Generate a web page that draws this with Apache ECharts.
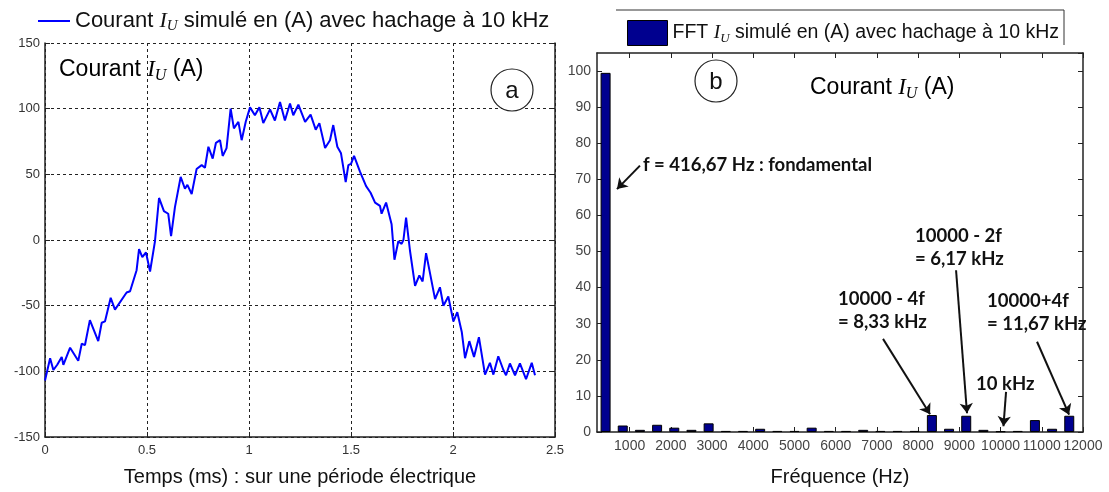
<!DOCTYPE html>
<html>
<head>
<meta charset="utf-8">
<script src="https://cdn.jsdelivr.net/npm/echarts@6/dist/echarts.min.js"></script>
<style>
  html, body { margin: 0; padding: 0; background: #fff; }
  #chart { width: 1109px; height: 492px; }
</style>
</head>
<body>
<div id="chart"></div>
<script>
// (a) simulated phase current over one electrical period (10 kHz chopping)
const timeMs = [0.000, 0.025, 0.041, 0.060, 0.082, 0.090, 0.123, 0.163, 0.180, 0.196,
  0.220, 0.261, 0.278, 0.294, 0.322, 0.343, 0.400, 0.417, 0.425, 0.449,
  0.461, 0.477, 0.495, 0.515, 0.539, 0.559, 0.583, 0.604, 0.618, 0.637,
  0.665, 0.686, 0.698, 0.719, 0.743, 0.768, 0.784, 0.801, 0.822, 0.838,
  0.858, 0.871, 0.890, 0.910, 0.926, 0.948, 0.964, 0.984, 1.005, 1.029,
  1.051, 1.070, 1.103, 1.127, 1.152, 1.176, 1.201, 1.217, 1.242, 1.275,
  1.302, 1.327, 1.345, 1.373, 1.397, 1.413, 1.433, 1.451, 1.474, 1.487,
  1.500, 1.515, 1.544, 1.574, 1.596, 1.618, 1.642, 1.650, 1.672, 1.699,
  1.713, 1.732, 1.748, 1.757, 1.770, 1.789, 1.814, 1.835, 1.851, 1.868,
  1.887, 1.912, 1.936, 1.953, 1.977, 2.002, 2.021, 2.043, 2.059, 2.080,
  2.103, 2.127, 2.157, 2.181, 2.198, 2.222, 2.247, 2.260, 2.279, 2.304,
  2.328, 2.358, 2.386, 2.402];
const currentA = [-107, -90, -99, -95, -89, -95, -82, -92, -79, -80,
  -61, -77, -63, -62, -44, -53, -40, -39, -35, -23,
  -7, -13, -9.5, -24, -1, 32, 22, 20, 3, 25,
  48, 39, 42, 35, 54, 57, 55, 71, 62, 74,
  76, 64, 70, 100, 85, 90, 76, 90, 101, 95,
  101, 89, 99.5, 91, 105, 91, 104, 95, 103, 90,
  95.5, 84, 89, 70, 76, 87.5, 71, 66, 44, 57,
  58, 64, 52, 41, 36, 28.5, 26, 20, 28.5, 12,
  -15, -1, -3, 0, 17, -8, -35, -27, -31.6, -10,
  -25, -45, -36, -50, -43, -62, -55, -70, -90, -77,
  -89, -74, -102.5, -93.5, -102.5, -88.5, -99, -103, -94, -103,
  -94, -106, -93.5, -103];

// (b) FFT of the same current: harmonic frequencies (Hz) and amplitudes (A)
const harmonicHz = [416.67, 833.33, 1250, 1666.67, 2083.33, 2500, 2916.67, 3333.33, 3750, 4166.67,
  4583.33, 5000, 5416.67, 5833.33, 6250, 6666.67, 7083.33, 7500, 7916.67, 8333.33,
  8750, 9166.67, 9583.33, 10000, 10416.67, 10833.33, 11250, 11666.67];
const fftAmp = [99.5, 1.8, 0.6, 2.0, 1.2, 0.6, 2.4, 0.3, 0.3, 0.9,
  0.3, 0.3, 1.2, 0.3, 0.3, 0.6, 0.3, 0.3, 0.3, 4.7,
  0.9, 4.5, 0.6, 0.2, 0.3, 3.3, 0.9, 4.5];

const freqTicks = [1000, 2000, 3000, 4000, 5000, 6000, 7000, 8000, 9000, 10000, 11000, 12000];

// annotation texts (anchored in data space of panel b) and their arrows [from, to]
const notes = [
  { text: 'f = 416,67 Hz : fondamental', at: [1324, 74.1] },
  { text: '10000 - 4f\n= 8,33 kHz', at: [6056, 33.6] },
  { text: '10000 - 2f\n= 6,17 kHz', at: [7925, 51] },
  { text: '10000+4f\n= 11,67 kHz', at: [9672, 33.1] },
  { text: '10 kHz', at: [9405, 13.3] }
];
const arrows = [
  [[1251, 73.8], [693, 67.3]],
  [[7148, 25.8], [8289, 4.9]],
  [[8920, 44.8], [9186, 5.2]],
  [[10885, 25.0], [11662, 4.8]],
  [[10133, 11.1], [10070, 1.6]]
];

const nameA = 'Courant I_U simulé en (A) avec hachage à 10 kHz';
const nameB = 'FFT I_U simulé en (A) avec hachage à 10 kHz';

const SANS = '"Liberation Sans", Arial, sans-serif';
const SERIF = '"Liberation Serif", "Times New Roman", serif';

function mathRich(size) {
  const sub = Math.round(size * 0.68);
  return {
    n: { fontFamily: SANS, fontSize: size, color: '#111', lineHeight: size + 4, verticalAlign: 'middle' },
    i: { fontFamily: SERIF, fontStyle: 'italic', fontSize: size, color: '#111', lineHeight: size + 4, verticalAlign: 'middle' },
    s: { fontFamily: SERIF, fontStyle: 'italic', fontSize: sub, color: '#111',
         lineHeight: sub, verticalAlign: 'bottom' }
  };
}
function withSub(name) {
  const p = name.split('I_U');
  return '{n|' + p[0] + '}{i|I}{s|U}{n|' + p[1] + '}';
}

const tickLabel = { fontFamily: SANS, fontSize: 13, color: '#333' };
const tickLabelB = { fontFamily: SANS, fontSize: 14, color: '#444' };
const dotted = { color: '#222', width: 1, type: [3, 3] };
const axLine = { show: true, onZero: false, lineStyle: { color: '#222', width: 1.5 } };

const chart = echarts.init(document.getElementById('chart'), null, { renderer: 'canvas' });

const option = {
  animation: false,
  backgroundColor: '#fff',
  legend: [
    {
      data: [nameA], left: 33, top: 5, icon: 'rect', itemWidth: 32, itemHeight: 2, itemGap: 0,
      selectedMode: false,
      itemStyle: { color: '#0000ff' },
      formatter: withSub,
      textStyle: { rich: mathRich(22) }
    },
    {
      data: [nameB], left: 622, top: 15, itemWidth: 40, itemHeight: 25,
      selectedMode: false, icon: 'rect',
      itemStyle: { borderColor: '#000', borderWidth: 1 },
      formatter: withSub,
      textStyle: { rich: mathRich(19.5) }
    }
  ],
  grid: [
    { left: 45, top: 43, width: 510, height: 399 },
    { left: 597, top: 53, width: 486, height: 387 }
  ],
  xAxis: [
    {
      gridIndex: 0, type: 'value', min: 0, max: 2.5, interval: 0.5,
      name: 'Temps (ms) : sur une période électrique', nameLocation: 'middle', nameGap: 30,
      nameTextStyle: { fontFamily: SANS, fontSize: 20, color: '#111' },
      axisLine: axLine,
      axisTick: { inside: true, length: 5, lineStyle: { color: '#222' } },
      axisLabel: Object.assign({ margin: 7 }, tickLabel),
      splitLine: { show: true, lineStyle: dotted }
    },
    {
      gridIndex: 1, type: 'value', min: 208.33, max: 12000, position: 'bottom',
      name: 'Fréquence (Hz)', nameLocation: 'middle', nameGap: 35,
      nameTextStyle: { fontFamily: SANS, fontSize: 20, color: '#111' },
      axisLine: axLine,
      axisTick: { inside: true, length: 5, customValues: freqTicks, lineStyle: { color: '#222' } },
      axisLabel: Object.assign({ margin: 7, customValues: freqTicks, formatter: v => String(v) }, tickLabelB),
      splitLine: { show: false }
    },
    {
      gridIndex: 1, type: 'value', min: 208.33, max: 12000, position: 'top',
      axisLine: axLine,
      axisTick: { inside: true, length: 5, customValues: freqTicks, lineStyle: { color: '#222' } },
      axisLabel: { show: false },
      splitLine: { show: false }
    }
  ],
  yAxis: [
    {
      gridIndex: 0, type: 'value', min: -150, max: 150, interval: 50, position: 'left',
      axisLine: axLine,
      axisTick: { inside: true, length: 5, lineStyle: { color: '#222' } },
      axisLabel: Object.assign({ margin: 5 }, tickLabel),
      splitLine: { show: true, lineStyle: dotted }
    },
    {
      gridIndex: 0, type: 'value', min: -150, max: 150, interval: 50, position: 'right',
      axisLine: axLine,
      axisTick: { inside: true, length: 5, lineStyle: { color: '#222' } },
      axisLabel: { show: false },
      splitLine: { show: false }
    },
    {
      gridIndex: 1, type: 'value', min: 0, max: 105, interval: 10, position: 'left',
      axisLine: axLine,
      axisTick: { inside: true, length: 5, lineStyle: { color: '#222' } },
      axisLabel: Object.assign({ margin: 6, showMaxLabel: false,
        formatter: v => (v > 100 ? '' : String(v)) }, tickLabelB),
      splitLine: { show: false }
    },
    {
      gridIndex: 1, type: 'value', min: 0, max: 105, interval: 10, position: 'right',
      axisLine: axLine,
      axisTick: { inside: true, length: 5, lineStyle: { color: '#222' } },
      axisLabel: { show: false },
      splitLine: { show: false }
    }
  ],
  series: [
    {
      name: nameA, type: 'line', xAxisIndex: 0, yAxisIndex: 0,
      data: timeMs.map((t, k) => [t, currentA[k]]),
      symbol: 'none', smooth: false,
      lineStyle: { color: '#0000ff', width: 2 },
      itemStyle: { color: '#0000ff' }
    },
    {
      name: nameB, type: 'bar', xAxisIndex: 1, yAxisIndex: 2,
      data: harmonicHz.map((f, k) => [f, fftAmp[k]]),
      barWidth: 10,
      itemStyle: { color: '#00008f', borderColor: '#000', borderWidth: 1 },
      markLine: {
        silent: true, symbol: ['none', 'arrow'], symbolSize: 10,
        label: { show: false },
        lineStyle: { color: '#111', width: 2, type: 'solid' },
        data: arrows.map(a => [{ coord: a[0] }, { coord: a[1] }])
      }
    }
  ]
};
chart.setOption(option);

// decorations: panel tags, in-plot titles, annotation texts, legend frame
const graphics = [];
function tag(cx, cy, letter) {
  graphics.push({ type: 'circle', shape: { cx: cx, cy: cy, r: 21 },
    style: { fill: '#fff', stroke: '#222', lineWidth: 1.2 }, z: 50 });
  graphics.push({ type: 'text', x: cx, y: cy + 1, z: 51,
    style: { text: letter, font: '24px ' + SANS, fill: '#111', align: 'center', verticalAlign: 'middle' } });
}
tag(512, 90, 'a');
tag(716, 81, 'b');

function plotTitle(x, y) {
  graphics.push({ type: 'text', x: x, y: y, z: 50,
    style: { text: withSub('Courant I_U (A)'), rich: mathRich(23), verticalAlign: 'middle' } });
}
plotTitle(59, 70);
plotTitle(810, 88);

notes.forEach(n => {
  const p = chart.convertToPixel({ gridIndex: 1 }, n.at);
  graphics.push({ type: 'text', x: p[0], y: p[1], z: 50,
    style: { text: n.text, font: 'bold 18.5px Lato, "Open Sans", sans-serif', fill: '#111',
      lineHeight: 23, align: 'left', verticalAlign: 'middle' } });
});

graphics.push({ type: 'polyline', shape: { points: [[616, 10], [1064, 10], [1064, 45]] },
  style: { stroke: '#333', lineWidth: 1, fill: null }, z: 50 });

chart.setOption({ graphic: graphics });
</script>
</body>
</html>
